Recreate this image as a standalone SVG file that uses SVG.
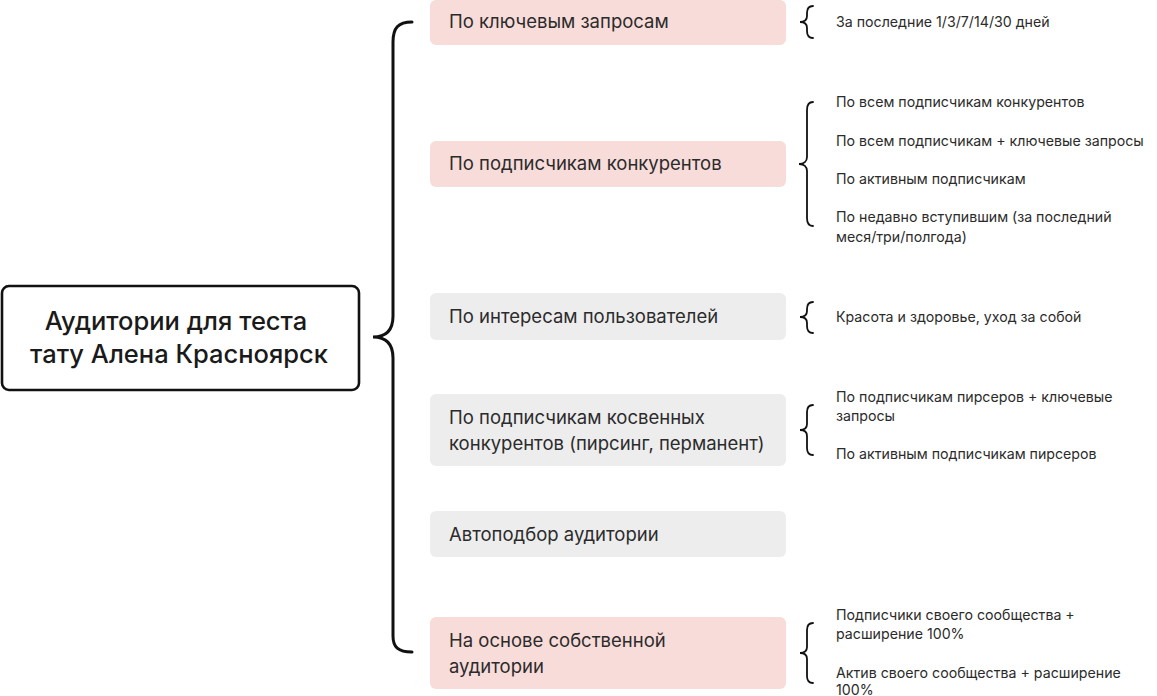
<svg xmlns="http://www.w3.org/2000/svg" width="1157" height="696" viewBox="0 0 1157 696">
<style>
.bg{fill:#ffffff}
.pink{fill:#f8dcd9}
.grey{fill:#ededed}
.root{fill:#ffffff;stroke:#111;stroke-width:2.6}
.rt{font-family:Inter,"Noto Sans",sans-serif;font-size:25.5px;font-weight:500;fill:#1a1a1a;text-anchor:middle}
.ct{font-family:Inter,"Noto Sans",sans-serif;font-size:18.5px;fill:#2b2b2b}
.st{font-family:Inter,"Noto Sans",sans-serif;font-size:14.2px;fill:#2b2b2b}
.big{fill:none;stroke:#111;stroke-width:3;stroke-linecap:round}
.sm{fill:none;stroke:#111;stroke-width:1.8;stroke-linecap:round}
</style>
<rect class="bg" x="0" y="0" width="1157" height="696"/>
<g id="connectors">
<path class="big" d="M412,22 C398,22 393,28 393,42 L393,316 C393,330 386,337 373,337 C386,337 393,344 393,358 L393,636 C393,647 398,652 412,652"/>
<path class="sm" d="M813,6 C809,6 807,9 807,13 L807,16 C807,20 804,22 800,22 C804,22 807,24 807,28 L807,31 C807,35 809,38 813,38"/>
<path class="sm" d="M813,102 C809,102 807,105 807,110 L807,157 C807,161 804,164 799,164 C804,164 807,167 807,171 L807,218 C807,223 809,226 813,226"/>
<path class="sm" d="M813,302 C809,302 807,305 807,309 L807,311 C807,315 804,317 800,317 C804,317 807,319 807,323 L807,326 C807,330 809,333 813,333"/>
<path class="sm" d="M813,405 C809,405 807,408 807,412 L807,424 C807,428 804,430 800,430 C804,430 807,432 807,436 L807,448 C807,452 809,455 813,455"/>
<path class="sm" d="M813,623 C809,623 807,626 807,630 L807,647 C807,651 804,653 800,653 C804,653 807,655 807,659 L807,676 C807,680 809,683 813,683"/>
</g>
<g id="root">
<rect class="root" x="2" y="286" width="357" height="104" rx="7"/>
<text class="rt" x="176" y="330">Аудитории для теста</text>
<text class="rt" x="179" y="363">тату Алена Красноярск</text>
</g>
<g id="n1">
<rect class="pink" x="430" y="0" width="356" height="45" rx="6"/>
<text class="ct" x="449" y="28">По ключевым запросам</text>
</g>
<g id="n2">
<rect class="pink" x="430" y="141" width="356" height="46" rx="6"/>
<text class="ct" x="449" y="170">По подписчикам конкурентов</text>
</g>
<g id="n3">
<rect class="grey" x="430" y="293" width="356" height="47" rx="6"/>
<text class="ct" x="449" y="323">По интересам пользователей</text>
</g>
<g id="n4">
<rect class="grey" x="430" y="394" width="356" height="72" rx="6"/>
<text class="ct" x="449" y="424">По подписчикам косвенных</text>
<text class="ct" x="449" y="450">конкурентов (пирсинг, перманент)</text>
</g>
<g id="n5">
<rect class="grey" x="430" y="511" width="356" height="46" rx="6"/>
<text class="ct" x="449" y="541">Автоподбор аудитории</text>
</g>
<g id="n6">
<rect class="pink" x="430" y="617" width="356" height="72" rx="6"/>
<text class="ct" x="449" y="647">На основе собственной</text>
<text class="ct" x="449" y="673">аудитории</text>
</g>
<g id="d1">
<text class="st" x="836" y="27">За последние 1/3/7/14/30 дней</text>
</g>
<g id="d2">
<text class="st" x="836" y="107">По всем подписчикам конкурентов</text>
<text class="st" x="836" y="146">По всем подписчикам + ключевые запросы</text>
<text class="st" x="836" y="184">По активным подписчикам</text>
<text class="st" x="836" y="222">По недавно вступившим (за последний</text>
<text class="st" x="836" y="242">меся/три/полгода)</text>
</g>
<g id="d3">
<text class="st" x="836" y="322">Красота и здоровье, уход за собой</text>
</g>
<g id="d4">
<text class="st" x="836" y="402">По подписчикам пирсеров + ключевые</text>
<text class="st" x="836" y="421">запросы</text>
<text class="st" x="836" y="459">По активным подписчикам пирсеров</text>
</g>
<g id="d6">
<text class="st" x="836" y="620">Подписчики своего сообщества +</text>
<text class="st" x="836" y="639">расширение 100%</text>
<text class="st" x="836" y="678">Актив своего сообщества + расширение</text>
<text class="st" x="836" y="695">100%</text>
</g>
</svg>
